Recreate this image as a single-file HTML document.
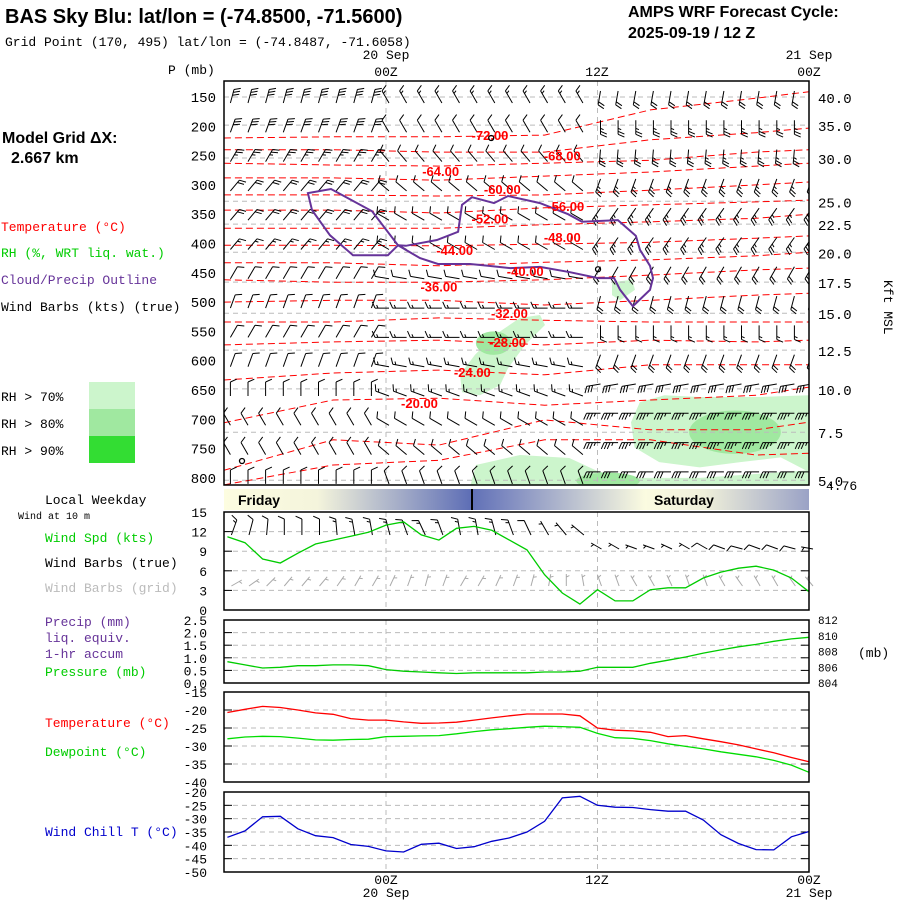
<!DOCTYPE html>
<html><head><meta charset="utf-8"><style>
html,body{margin:0;padding:0;background:#fff;width:900px;height:900px;overflow:hidden}
svg{display:block}
.m{font-family:"Liberation Mono","DejaVu Sans Mono",monospace;font-size:13px}
.b{font-family:"Liberation Sans",sans-serif;font-weight:bold}
</style></head><body>
<svg id="chart" width="900" height="900" viewBox="0 0 900 900" xmlns="http://www.w3.org/2000/svg">
<defs>
<linearGradient id="dayg" x1="224" y1="0" x2="809" y2="0" gradientUnits="userSpaceOnUse">
<stop offset="0" stop-color="#fdfde0"/><stop offset="0.16" stop-color="#f4f4dc"/><stop offset="0.42" stop-color="#5f6fb6"/><stop offset="0.48" stop-color="#7d89c0"/><stop offset="0.72" stop-color="#fbfbe0"/><stop offset="0.82" stop-color="#f0f0da"/><stop offset="1" stop-color="#9aa2c6"/>
</linearGradient>
</defs>
<g>
<text class="b" x="5" y="23" font-size="20">BAS Sky Blu:  lat/lon = (-74.8500, -71.5600)</text>
<text class="m" x="5" y="46" font-size="14">Grid Point (170, 495) lat/lon = (-74.8487, -71.6058)</text>
<text class="b" x="628" y="17" font-size="16">AMPS WRF Forecast Cycle:</text>
<text class="b" x="628" y="38" font-size="16">2025-09-19 / 12  Z</text>
<text class="b" x="2" y="143" font-size="16">Model Grid ΔX:</text>
<text class="b" x="11" y="163" font-size="16">2.667 km</text>
</g>
<g class="m">
<text x="1" y="231" fill="#ff0000">Temperature (°C)</text>
<text x="1" y="257" fill="#00cc00">RH (%, WRT liq. wat.)</text>
<text x="1" y="284" fill="#663399">Cloud/Precip Outline</text>
<text x="1" y="311" fill="#000">Wind Barbs (kts) (true)</text>
<text x="1" y="401">RH &gt; 70%</text>
<text x="1" y="428">RH &gt; 80%</text>
<text x="1" y="455">RH &gt; 90%</text>
<rect x="89" y="382" width="46" height="27" fill="#ccf5cc"/>
<rect x="89" y="409" width="46" height="27" fill="#a0e8a0"/>
<rect x="89" y="436" width="46" height="27" fill="#33dd33"/>
<text x="168" y="74">P (mb)</text>
<text x="45" y="504">Local Weekday</text>
<text x="18" y="519" font-size="10">Wind at 10 m</text>
<text x="45" y="542" fill="#00cc00">Wind Spd (kts)</text>
<text x="45" y="567">Wind Barbs (true)</text>
<text x="45" y="592" fill="#bbbbbb">Wind Barbs (grid)</text>
<text x="45" y="626" fill="#663399">Precip (mm)</text>
<text x="45" y="642" fill="#663399">liq. equiv.</text>
<text x="45" y="658" fill="#663399">1-hr accum</text>
<text x="45" y="676" fill="#00cc00">Pressure (mb)</text>
<text x="45" y="727" fill="#ff0000">Temperature (°C)</text>
<text x="45" y="756" fill="#00cc00">Dewpoint (°C)</text>
<text x="45" y="836" fill="#0000cc">Wind Chill T (°C)</text>
<text x="858" y="657">(mb)</text>
<text x="826" y="490">4.76</text>
<text x="0" y="0" transform="translate(884,280) rotate(90)">Kft MSL</text>
</g>
<g id="plot"></g>
</svg>
<script>
// ---------- data ----------
const pressLevels = [150,200,250,300,350,400,450,500,550,600,650,700,750,800];
const kftLabels = ["40.0","35.0","30.0","25.0","22.5","20.0","17.5","15.0","12.5","10.0","7.5","5.0"];
const kftPress = [150,198,254,328,367,415,466,519,582,648,722,804];
const barbHours = [-9,-8,-7,-6,-5,-4,-3,-2,-1,0,1,2,3,4,5,6,7,8,9,10,11,12,13,14,15,16,17,18,19,20,21,22,23,24];
const dirEarly = [15,20,30,40,40,40,30,20,30,20,0,330,330,0];
const spdEarly = [30,30,25,20,20,15,10,10,10,10,10,10,10,10];
const dirMid = [330,330,320,310,300,300,280,270,270,280,290,300,310,340];
const spdMid = [15,10,10,10,10,10,10,15,15,15,15,10,10,10];
const dirLate = [190,180,185,200,215,215,210,195,180,200,260,270,270,270];
const spdLate = [20,25,25,25,25,25,20,20,15,20,30,35,35,30];
const isoHours = [-9.2,-3,3,9,15,21,24];
const isotherms = [
 [220,218,218,215,172,152,141],
 [240,240,244,244,223,211,203],
 [263,266,268,263,258,244,240],
 [288,288,292,285,278,268,263],
 [317,317,319,317,309,300,295],
 [343,343,348,339,334,329,326],
 [374,374,374,368,363,357,350],
 [403,403,404,401,398,391,387],
 [433,433,438,432,428,421,415],
 [462,466,466,462,454,445,442],
 [500,497,497,505,497,488,485],
 [534,534,527,531,534,534,534],
 [573,568,565,573,565,568,565],
 [633,621,616,624,607,607,607],
 [706,667,664,676,667,659,645],
 [787,735,744,701,718,718,705],
 [812,778,770,735,735,761,758]
];
const isoLabelText = ["-72.00","-68.00","-64.00","-60.00","-56.00","-52.00","-48.00","-44.00","-40.00","-36.00","-32.00","-28.00","-24.00","-20.00"];
const isoLabelHour = [5.9,10,3.1,6.6,10.2,5.9,10,3.9,7.9,3,7,6.9,4.9,1.9];
const isoLabelPress = [215,250,276,307,336,357,389,411,447,473,519,568,619,672];
const cloudLeftH = [-4.43,-3.12,-0.79,0.68,0.11,-1.87,-3.18,-4.2];
const cloudLeftP = [314,307,345,403,420,420,386,343];
const cloudRightH = [0.68,1.13,2.89,4.09,4.31,4.88,6.13,6.92,8.74,10.33,11.12,13.16,14.18,14.41,14.98,15.15,14.98,14.01,13.28,12.94,12.03,10.44,8.74,7.04,5.79,4.77,2.95,1.93,1.13];
const cloudRightP = [403,404,394,380,334,321,331,319,331,350,363,360,387,411,438,459,479,507,479,459,459,449,440,442,438,435,435,425,411];
const rhBlobs = [
 {lvl:0,h:[8.74,9.02,7.89,6.92,6.47,5.33,4.31,4.2,5.05,6.18,7.6],p:[522,539,573,613,642,659,654,624,590,556,527]},
 {lvl:0,h:[13.9,14.4,15.8,17.8,21.2,24,24,22.4,20.1,17.8,15.5,14.1],p:[705,671,659,662,662,659,790,765,773,782,773,748]},
 {lvl:0,h:[4.8,5.1,7.6,10.4,11.9,13.3,17.8,24,24],p:[812,778,761,766,787,800,800,787,812]},
 {lvl:0,h:[12.82,13.96,14.13,13.28,12.82],p:[466,462,479,497,488]}
];
const rhCoreH = [6.1,19.8,12.6];
const rhCoreP = [570,722,805];
const rhCoreRh = [1.0,2.6,1.8];
const rhCoreRp = [20,37,14];
const sfcHours = barbHours;
const windSpd = [11.2,10.3,7.8,7.2,8.7,10.1,10.7,11.3,11.9,13.0,13.5,11.5,10.7,12.5,12.8,12.2,10.7,9.2,5.4,2.6,0.9,3.1,1.4,1.4,3.1,3.4,3.4,4.9,5.8,6.4,6.7,6.1,4.9,2.8];
const sfcDir = [20,15,5,0,0,0,355,350,350,345,340,335,340,350,350,345,340,335,330,320,310,300,300,290,290,295,300,300,290,285,290,290,285,280];
const sfcPress = [806.7,806.3,805.9,806.0,806.2,806.2,806.3,806.3,806.2,805.7,805.5,805.4,805.3,805.2,805.3,805.3,805.3,805.3,805.4,805.4,805.5,806.0,806.0,806.0,806.5,806.9,807.3,807.8,808.2,808.6,808.9,809.3,809.6,809.8];
const sfcTemp = [-20.7,-19.8,-19.0,-19.3,-20.0,-20.8,-21.2,-22.4,-22.8,-22.8,-23.3,-23.7,-23.6,-23.4,-22.8,-22.2,-21.6,-21.1,-21.1,-21.1,-21.6,-25.0,-25.6,-25.8,-26.2,-27.4,-27.1,-28.0,-28.8,-29.7,-30.8,-31.9,-33.2,-34.4];
const sfcDew = [-28.0,-27.5,-27.3,-27.4,-27.8,-28.3,-28.4,-28.2,-28.1,-27.4,-27.3,-27.2,-27.1,-26.6,-26.0,-25.5,-25.2,-24.8,-24.5,-24.6,-24.8,-26.5,-27.7,-27.9,-28.5,-29.4,-30.1,-30.8,-31.6,-32.3,-33.0,-34.0,-35.3,-37.3];
const windChill = [-37.0,-34.6,-29.3,-29.1,-33.8,-36.4,-37.1,-39.7,-40.4,-42.1,-42.5,-39.6,-39.2,-41.2,-40.5,-38.5,-37.2,-35.0,-31.0,-22.2,-21.6,-25.0,-25.7,-25.8,-26.6,-27.2,-27.2,-30.5,-36.0,-39.3,-41.6,-41.7,-36.8,-34.8];
const windTicks = [15,12,9,6,3,0];
const precipTicks = ["2.5","2.0","1.5","1.0","0.5","0.0"];
const precipTickVals = [2.5,2.0,1.5,1.0,0.5,0.0];
const pressTicks = [812,810,808,806,804];
const tempTicks = [-15,-20,-25,-30,-35,-40];
const chillTicks = [-20,-25,-30,-35,-40,-45,-50];

// ---------- axes ----------
const X0=224, X1=809;
const hx = h => 386 + h*17.625;
const py = p => 97 + (p-150)*0.586;
const wy = s => 610 - s*98/15;
const ppy = v => 683 - v*63/2.5;
const psy = p => 683 - (p-804)*63/8;
const ty = t => 692 + (-15 - t)*3.6;
const cy = t => 792 + (-20 - t)*80/30;
const NS='http://www.w3.org/2000/svg';
const root=document.getElementById('plot');
function mk(tag, attrs, parent){const e=document.createElementNS(NS,tag);for(const k in attrs)e.setAttribute(k,attrs[k]);(parent||root).appendChild(e);return e;}
function txt(s,x,y,attrs,parent){const e=mk('text',Object.assign({x:x,y:y,'font-family':'"Liberation Mono",monospace','font-size':13},attrs),parent);e.textContent=s;return e;}

// ---------- upper panel ----------
const up=mk('g',{});


const clip=mk('clipPath',{id:'upclip'},up);mk('rect',{x:X0,y:81,width:X1-X0,height:404},clip);
const ug=mk('g',{'clip-path':'url(#upclip)'},up);
const colors=['#ccf5cc','#a0e8a0','#33dd33'];
rhBlobs.forEach((b,i)=>{
  const pts=b.h.map((h,j)=>hx(h).toFixed(1)+','+py(b.p[j]).toFixed(1)).join(' ');
  const e=mk('polygon',{points:pts,fill:colors[b.lvl],stroke:'none'},ug);
  
  
});
rhCoreH.forEach((h,i)=>{
  const e=mk('ellipse',{cx:hx(h),cy:py(rhCoreP[i]),rx:rhCoreRh[i]*17.625,ry:rhCoreRp[i]*0.586,fill:colors[1]},ug);
  
  
});
kftPress.forEach((p,i)=>{
  const e=mk('line',{x1:X0,x2:X1,y1:py(p),y2:py(p),stroke:'#bbb','stroke-dasharray':'5,4'},ug);
  
  
});
[0,12].forEach(h=>{
  const e=mk('line',{x1:hx(h),x2:hx(h),y1:81,y2:485,stroke:'#bbb','stroke-dasharray':'5,4'},ug);
  
  
});
isotherms.forEach((ps)=>{
  const pts=ps.map((p,j)=>hx(isoHours[j]).toFixed(1)+','+py(p).toFixed(1)).join(' ');
  const e=mk('polyline',{points:pts,fill:'none',stroke:'#ff0000','stroke-dasharray':'7,4','stroke-width':1},ug);
  
  
});
function barb(x,y,dir,spd,color,parent,len,side){
  len=len||14; side=side||1;
  const r=dir*Math.PI/180, ux=Math.sin(r), uy=-Math.cos(r);
  const tx=x+ux*len, ty2=y+uy*len;
  let d='M'+x.toFixed(1)+','+y.toFixed(1)+'L'+tx.toFixed(1)+','+ty2.toFixed(1);
  const bx=-uy*side, by=ux*side;
  let s=Math.round(spd/5)*5, pos=0;
  while(s>=10){const sx=tx-ux*pos, sy=ty2-uy*pos;d+='M'+sx.toFixed(1)+','+sy.toFixed(1)+'l'+((bx*0.9+ux*0.4)*7).toFixed(1)+','+((by*0.9+uy*0.4)*7).toFixed(1);s-=10;pos+=3;}
  if(s>=5){if(pos===0)pos=3;const sx=tx-ux*pos, sy=ty2-uy*pos;d+='M'+sx.toFixed(1)+','+sy.toFixed(1)+'l'+((bx*0.9+ux*0.4)*3.5).toFixed(1)+','+((by*0.9+uy*0.4)*3.5).toFixed(1);}
  return mk('path',{d:d,stroke:color,fill:'none','stroke-width':1},parent);
}
pressLevels.forEach((p,i)=>{
  barbHours.forEach(h=>{
    const dd = h<0?dirEarly[i]:(h<12?dirMid[i]:dirLate[i]);
    const ss = h<0?spdEarly[i]:(h<12?spdMid[i]:spdLate[i]);
    const e=barb(hx(h)+3,py(p)+(h<12?6:-6),dd,ss,'#000',ug,14,h<12?1:-1);
    
    
  });
});
function cloud(hs,ps){
  const pts=hs.map((h,j)=>hx(h).toFixed(1)+','+py(ps[j]).toFixed(1)).join(' ');
  return mk('polygon',{points:pts,fill:'none',stroke:'#663399','stroke-width':2},ug);
}
let c1=cloud(cloudLeftH,cloudLeftP);


let c2=cloud(cloudRightH,cloudRightP);


isoLabelText.forEach((s,i)=>{
  const e=txt(s,hx(isoLabelHour[i]),py(isoLabelPress[i])+5,{'text-anchor':'middle',fill:'#ff0000','font-family':'"Liberation Sans",sans-serif','font-weight':'bold','font-size':13},ug);
  
  
});
[[5.97,220],[12.03,444]].forEach(q=>{
  const e=mk('circle',{cx:hx(q[0]),cy:py(q[1]),r:2.5,fill:'none',stroke:'#000','stroke-width':1.3},ug);
  
  
});
const sm=mk('circle',{cx:242,cy:461,r:2.5,fill:'none',stroke:'#000','stroke-width':1.3},ug);


const ub=mk('rect',{x:X0,y:81,width:X1-X0,height:404,fill:'none',stroke:'#000','stroke-width':1.5},up);


pressLevels.forEach(p=>{
  const e=txt(String(p),216,py(p)+5,{'text-anchor':'end','font-size':14},up);
  
  
});
kftLabels.forEach((s,i)=>{
  const e=txt(s,818,py(kftPress[i])+6,{'font-size':14},up);
  
  
});
[['20 Sep',386,59],['00Z',386,76],['12Z',597,76],['21 Sep',809,59],['00Z',809,76]].forEach(a=>{
  const e=txt(a[0],a[1],a[2],{'text-anchor':'middle'},up);
  
  
});

// ---------- day bar ----------
const db=mk('rect',{x:X0,y:489,width:X1-X0,height:21,fill:'url(#dayg)'});


const dl=mk('line',{x1:472,x2:472,y1:489,y2:510,stroke:'#000','stroke-width':2});


const fr=txt('Friday',238,505,{'font-family':'"Liberation Sans",sans-serif','font-weight':'bold','font-size':14});


const sa=txt('Saturday',654,505,{'font-family':'"Liberation Sans",sans-serif','font-weight':'bold','font-size':14});



// ---------- lower panels ----------
function panel(name,top,bot,tickVals,tickLabels,mapY){
  const g=mk('g',{});
  
  
  tickVals.forEach((v,i)=>{
    const y=mapY(v);
    if(y>top+1&&y<bot-1){const l=mk('line',{x1:X0,x2:X1,y1:y,y2:y,stroke:'#bbb','stroke-dasharray':'5,4'},g);
    
    
    const t1=mk('line',{x1:X0,x2:X0+8,y1:y,y2:y,stroke:'#000'},g);
    
    
    const t2=mk('line',{x1:X1-8,x2:X1,y1:y,y2:y,stroke:'#000'},g);
    
    }
    const t=txt(tickLabels[i],207,y+5,{'text-anchor':'end','font-size':13},g);
    
    
  });
  [0,12].forEach(h=>{
    const l=mk('line',{x1:hx(h),x2:hx(h),y1:top,y2:bot,stroke:'#bbb','stroke-dasharray':'5,4'},g);
    
    
  });
  return g;
}
function series(g,vals,mapY,color,name){
  const pts=vals.map((v,i)=>hx(sfcHours[i]).toFixed(1)+','+mapY(v).toFixed(1)).join(' ');
  const e=mk('polyline',{points:pts,fill:'none',stroke:color,'stroke-width':1.3},g);
  
  
}
function frame(g,top,bot){
  const e=mk('rect',{x:X0,y:top,width:X1-X0,height:bot-top,fill:'none',stroke:'#000','stroke-width':1.5},g);
  
  
}
const gw=panel('wind-panel',512,610,windTicks,windTicks.map(String),wy);
sfcHours.forEach((h,i)=>{
  const g1=barb(hx(h)+4,h<12?535:549,sfcDir[i],h<12?windSpd[i]+2:windSpd[i]+3,'#000',gw,h<12?16:12,-1);
  
  
  const g2=barb(hx(h)+4,586,(sfcDir[i]+40)%360,5,'#aaaaaa',gw,12,1);
  
  
});
series(gw,windSpd,wy,'#00cc00','wind-speed-line');
frame(gw,512,610);
const gp=panel('precip-pressure-panel',620,683,precipTickVals,precipTicks,ppy);
pressTicks.forEach(p=>{
  const t=txt(String(p),818,psy(p)+4,{'font-size':11},gp);
  
  
});
series(gp,sfcPress,psy,'#00cc00','pressure-line');
frame(gp,620,683);
const gt=panel('temperature-panel',692,782,tempTicks,tempTicks.map(String),ty);
series(gt,sfcTemp,ty,'#ff0000','temperature-line');
series(gt,sfcDew,ty,'#00dd00','dewpoint-line');
frame(gt,692,782);
const gc=panel('wind-chill-panel',792,872,chillTicks,chillTicks.map(String),cy);
series(gc,windChill,cy,'#0000cc','wind-chill-line');
frame(gc,792,872);
[['00Z',386,884],['20 Sep',386,897],['12Z',597,884],['00Z',809,884],['21 Sep',809,897]].forEach(a=>{
  const e=txt(a[0],a[1],a[2],{'text-anchor':'middle'});
  
  
});
</script>
</body></html>
